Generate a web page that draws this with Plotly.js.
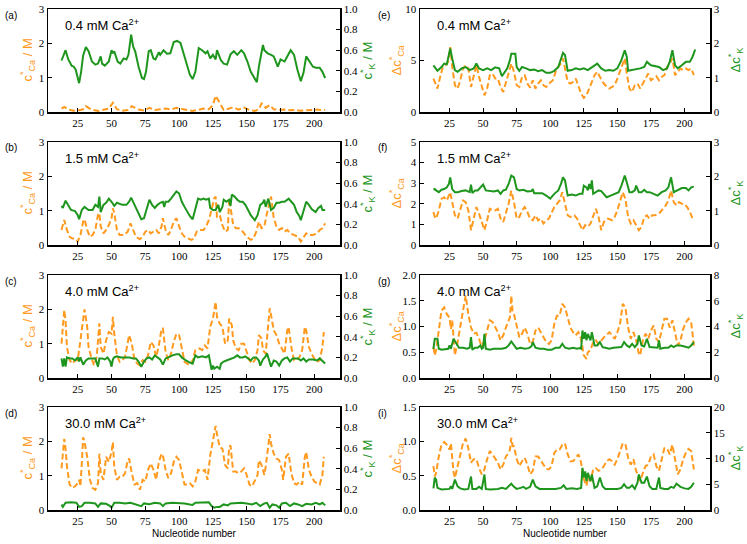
<!DOCTYPE html>
<html><head><meta charset="utf-8">
<script src="https://cdn.plot.ly/plotly-3.0.1.min.js"></script>
<style>html,body{margin:0;padding:0;background:#fff}#chart{width:747px;height:544px}</style>
</head><body><div id="chart"></div>
<script>
// ---- data: [nucleotide, value] pairs ----
const aCa=[[13,0.1],[15,0.15],[18,0.07],[22,0.04],[26,0.05],[29,0.08],[31,0.17],[35,0.07],[40,0.03],[44,0.06],[48,0.1],[51,0.27],[54,0.08],[58,0.04],[62,0.06],[65,0.17],[70,0.07],[74,0.04],[78,0.12],[82,0.06],[86,0.08],[90,0.1],[94,0.07],[98,0.12],[102,0.09],[106,0.05],[110,0.03],[114,0.06],[118,0.1],[122,0.08],[125,0.2],[127,0.47],[130,0.25],[133,0.06],[137,0.1],[140,0.14],[144,0.07],[148,0.13],[152,0.06],[156,0.03],[159,0.08],[161,0.25],[164,0.12],[167,0.2],[170,0.08],[174,0.06],[178,0.07],[182,0.05],[186,0.06],[190,0.04],[194,0.05],[198,0.06],[202,0.07],[206,0.05],[208,0.07]];
const aK=[[13,0.50],[14.4,0.555],[16,0.60],[18,0.51],[20.5,0.45],[22,0.44],[23.5,0.41],[26,0.28],[27.5,0.39],[29,0.55],[31,0.63],[33,0.59],[35.5,0.49],[38,0.46],[40,0.47],[42,0.54],[43,0.47],[45,0.45],[48,0.49],[50,0.60],[51,0.57],[52,0.59],[54.5,0.49],[56.5,0.47],[59,0.52],[61,0.51],[62.5,0.555],[64.5,0.75],[66,0.635],[67.5,0.59],[70,0.44],[72.5,0.33],[74,0.32],[75.5,0.39],[77.5,0.59],[79,0.60],[81,0.52],[82.5,0.51],[85,0.58],[86,0.555],[88.5,0.60],[91,0.565],[93.5,0.57],[96,0.68],[98.5,0.69],[101,0.67],[103,0.59],[105.5,0.47],[108,0.36],[110,0.32],[112,0.39],[114.5,0.62],[117,0.60],[119.5,0.57],[121,0.59],[123,0.52],[125,0.555],[127,0.51],[128,0.60],[131,0.50],[133,0.47],[135.5,0.46],[138,0.56],[140.5,0.59],[143,0.555],[146,0.60],[148,0.57],[150.5,0.49],[153,0.39],[155.5,0.33],[157.5,0.29],[159,0.44],[162,0.65],[163,0.60],[165.5,0.57],[168,0.555],[170,0.54],[173,0.44],[175,0.51],[178,0.49],[180,0.54],[182.5,0.60],[185,0.555],[187.5,0.41],[190,0.30],[192,0.38],[194,0.54],[196,0.50],[199,0.44],[201,0.43],[204,0.43],[206,0.39],[208,0.33]];
const bCa=[[13,0.44],[14,0.58],[15,0.73],[17,0.44],[19,0.24],[21,0.19],[23,0.19],[25,0.1],[27,0.29],[29,0.68],[30,0.75],[32,0.44],[34,0.24],[36,0.29],[38,0.44],[40,0.88],[41,0.93],[42,0.54],[44,0.34],[46,0.44],[48,0.58],[50,0.78],[51,1.07],[52,0.93],[54,0.44],[56,0.29],[59,0.29],[62,0.39],[64,0.63],[66,0.44],[68,0.24],[71,0.17],[73,0.24],[75,0.39],[77,0.44],[79,0.34],[81,0.39],[83,0.44],[85,0.34],[87,0.54],[88,0.78],[90,0.44],[92,0.29],[94,0.44],[96,0.68],[98,0.78],[100,0.54],[102,0.34],[104,0.24],[107,0.19],[109,0.15],[111,0.19],[113,0.39],[115,0.44],[118,0.44],[120,0.54],[122,0.73],[124,1.02],[126,1.36],[127,1.41],[128,0.83],[130,0.88],[132,0.58],[134,0.39],[136,0.44],[137,1.36],[138,1.12],[140,0.58],[142,0.49],[144,0.49],[146,0.44],[148,0.34],[150,0.24],[153,0.15],[155,0.19],[157,0.39],[159,0.68],[161,0.49],[163,0.54],[165,0.93],[167,1.31],[168,1.41],[170,0.78],[172,0.54],[174,0.44],[176,0.49],[178,0.39],[180,0.44],[182,0.34],[185,0.29],[188,0.24],[190,0.1],[192,0.24],[194,0.34],[196,0.29],[199,0.29],[202,0.34],[204,0.44],[206,0.49],[208,0.63]];
const bK=[[13,0.38],[14,0.36],[16,0.43],[18,0.39],[20,0.34],[23,0.33],[25,0.29],[26,0.25],[28,0.34],[30,0.37],[33,0.34],[36,0.34],[38,0.39],[40,0.37],[41,0.47],[42,0.32],[44,0.39],[46,0.41],[48,0.45],[50,0.42],[52,0.38],[54,0.41],[56,0.40],[58,0.39],[61,0.39],[63,0.42],[64.5,0.46],[66,0.42],[68,0.37],[70,0.31],[72,0.25],[74,0.26],[76,0.34],[78,0.44],[80,0.39],[82,0.36],[84,0.39],[86,0.41],[88,0.42],[89,0.37],[90,0.42],[92,0.42],[94,0.45],[96,0.49],[98,0.52],[100,0.50],[102,0.42],[104,0.37],[106,0.32],[108,0.28],[110,0.25],[112,0.34],[114,0.45],[116,0.44],[118,0.45],[120,0.44],[122,0.45],[123,0.36],[125,0.34],[127,0.34],[129,0.39],[130,0.32],[132,0.37],[133,0.44],[135,0.42],[137,0.44],[138,0.38],[139,0.49],[141,0.47],[143,0.44],[145,0.42],[147,0.42],[149,0.39],[151,0.34],[153,0.29],[156,0.24],[158,0.29],[160,0.39],[162,0.41],[163,0.44],[164,0.37],[166,0.45],[168,0.34],[170,0.36],[172,0.41],[174,0.41],[176,0.42],[178,0.42],[181,0.45],[183,0.42],[185,0.39],[187,0.32],[189,0.28],[190,0.24],[192,0.34],[194,0.42],[196,0.39],[198,0.35],[201,0.32],[203,0.36],[205,0.38],[206,0.34],[208,0.34]];
const cCa=[[13,1.0],[14,1.49],[15,1.98],[16,1.68],[17,0.9],[19,0.52],[21,0.42],[23,0.52],[25,0.52],[27,1.1],[29,1.73],[30,2.0],[32,1.49],[33,0.9],[35,0.61],[37,0.37],[39,0.61],[40,1.0],[41,1.59],[42,0.9],[44,0.71],[46,1.1],[48,1.34],[50,1.29],[51,1.78],[52,1.29],[54,0.66],[56,0.47],[58,0.52],[60,0.61],[62,1.1],[63,1.25],[65,1.0],[67,0.52],[69,0.42],[71,0.37],[73,0.52],[75,0.47],[77,0.66],[79,1.05],[81,0.95],[83,0.61],[85,0.95],[87,1.44],[88,1.44],[90,0.76],[92,0.52],[94,0.71],[96,1.05],[98,1.29],[100,1.25],[102,0.81],[104,0.47],[106,0.42],[108,0.37],[110,0.52],[112,0.81],[115,0.86],[117,0.81],[119,0.95],[121,0.86],[123,1.49],[125,1.73],[127,2.22],[128,1.78],[130,1.59],[132,1.49],[134,1.0],[136,1.1],[137,1.73],[139,1.54],[140,1.1],[142,0.86],[144,0.81],[146,1.0],[148,1.0],[150,0.76],[152,0.52],[154,0.42],[156,0.52],[158,0.81],[159,1.25],[161,1.15],[162,0.81],[164,0.71],[166,1.68],[167,2.03],[168,1.83],[170,1.39],[172,1.25],[174,1.0],[176,0.86],[178,0.71],[180,1.39],[181,1.49],[183,0.9],[185,0.52],[187,0.52],[189,0.61],[191,0.81],[193,1.49],[194,1.39],[196,0.9],[198,0.71],[200,0.56],[202,0.47],[204,0.52],[206,0.9],[207,1.34]];
const cK=[[13,0.19],[14,0.11],[15,0.19],[16,0.11],[17,0.2],[19,0.19],[21,0.19],[23,0.17],[25,0.2],[26,0.16],[27,0.2],[29,0.13],[31,0.17],[33,0.19],[36,0.19],[38,0.19],[40,0.11],[41,0.19],[43,0.19],[45,0.18],[47,0.2],[49,0.16],[50,0.11],[51,0.18],[52,0.2],[54,0.21],[57,0.2],[60,0.2],[63,0.2],[66,0.19],[68,0.19],[70,0.16],[72,0.11],[74,0.16],[76,0.19],[78,0.2],[80,0.18],[82,0.22],[84,0.2],[86,0.18],[88,0.13],[90,0.19],[92,0.2],[95,0.22],[98,0.23],[100,0.23],[102,0.2],[105,0.17],[108,0.15],[110,0.14],[112,0.22],[114,0.2],[117,0.21],[120,0.2],[122,0.22],[123,0.14],[124,0.08],[125,0.12],[126,0.09],[128,0.11],[130,0.09],[131,0.14],[133,0.16],[135,0.17],[137,0.18],[139,0.19],[141,0.2],[143,0.22],[145,0.2],[147,0.2],[149,0.21],[151,0.19],[153,0.17],[155,0.2],[157,0.2],[159,0.17],[160,0.12],[162,0.18],[164,0.21],[165,0.24],[166,0.19],[168,0.11],[170,0.17],[172,0.16],[174,0.12],[176,0.17],[178,0.19],[180,0.2],[182,0.16],[184,0.19],[186,0.19],[188,0.19],[190,0.17],[192,0.19],[194,0.16],[196,0.18],[199,0.18],[202,0.17],[204,0.19],[206,0.16],[208,0.14]];
const dCa=[[13,1.21],[14,1.69],[15,2.07],[16,1.79],[17,1.26],[19,0.74],[21,0.64],[23,0.69],[25,0.78],[26,0.88],[27,0.69],[28,1.36],[29,2.12],[30,1.98],[32,1.55],[34,0.88],[36,0.64],[38,0.59],[40,0.78],[41,1.64],[42,1.07],[44,0.88],[46,1.55],[48,1.4],[50,1.69],[51,1.98],[52,1.26],[54,0.88],[56,0.97],[58,0.97],[60,1.07],[62,1.45],[63,1.5],[65,1.07],[67,0.74],[69,0.78],[71,0.59],[73,0.88],[75,0.83],[77,1.17],[79,1.36],[81,1.17],[83,0.88],[85,1.4],[87,1.64],[88,1.59],[90,1.17],[92,0.93],[94,1.07],[96,1.4],[98,1.55],[100,1.45],[102,1.07],[104,0.74],[106,0.74],[108,0.78],[110,0.69],[112,0.83],[114,1.17],[117,1.12],[119,1.17],[121,0.88],[123,1.59],[125,2.02],[126,2.17],[127,2.45],[128,2.21],[130,1.83],[132,1.79],[134,1.31],[136,1.21],[137,1.83],[138,1.88],[140,1.12],[142,1.12],[144,1.07],[146,1.12],[148,1.21],[150,1.02],[152,0.74],[154,0.69],[156,0.88],[158,1.02],[159,1.45],[161,1.31],[163,1.02],[164,1.26],[166,1.88],[167,2.21],[168,1.93],[170,1.64],[172,1.5],[174,1.45],[176,1.17],[177,0.88],[179,1.55],[181,1.64],[183,1.07],[185,0.78],[187,0.74],[189,0.83],[191,0.74],[193,1.55],[194,1.69],[196,1.17],[198,0.97],[200,0.83],[202,0.78],[204,0.74],[206,1.02],[207,1.55]];
const dK=[[13,0.054],[14,0.03],[16,0.07],[20,0.076],[24,0.07],[26,0.03],[28,0.038],[30,0.07],[34,0.07],[38,0.064],[40,0.03],[42,0.064],[46,0.06],[49,0.038],[50,0.022],[52,0.07],[56,0.07],[60,0.064],[64,0.07],[68,0.054],[72,0.038],[74,0.064],[78,0.057],[82,0.07],[86,0.064],[88,0.038],[90,0.064],[95,0.07],[100,0.07],[104,0.064],[108,0.054],[110,0.05],[112,0.07],[117,0.07],[122,0.076],[124,0.038],[126,0.022],[128,0.03],[130,0.03],[133,0.054],[136,0.045],[138,0.064],[142,0.07],[146,0.07],[150,0.064],[154,0.054],[157,0.07],[160,0.038],[163,0.064],[165,0.07],[167,0.022],[169,0.054],[172,0.045],[174,0.022],[176,0.064],[179,0.07],[182,0.038],[185,0.064],[188,0.054],[191,0.038],[194,0.06],[198,0.054],[201,0.07],[204,0.054],[206,0.07],[208,0.045]];
const eCa=[[13,3.25],[15,2.6],[16,2.27],[18,3.4],[20,4.38],[22,4.55],[24,4.87],[25.5,6.3],[27,4.38],[29,2.6],[31,2.27],[33,3.08],[35,4.22],[37,4.55],[39,4.22],[41,2.43],[43,3.4],[45,4.55],[47,3.4],[49,2.6],[51,1.62],[53,2.27],[55,3.57],[57,3.73],[59,3.25],[61,3.25],[63,2.43],[65,1.95],[67,2.92],[69,3.9],[71,4.7],[73,3.9],[75,2.6],[77,2.43],[79,3.4],[81,3.57],[83,2.76],[85,2.37],[87,3.08],[89,2.27],[91,2.76],[93,3.08],[95,2.6],[97,2.43],[99,2.76],[102,3.08],[104,3.9],[106,4.38],[108,4.7],[109.5,5.2],[111,4.06],[113,2.92],[115,2.76],[117,2.92],[119,3.25],[121,2.43],[123,1.79],[125,1.36],[127,1.62],[129,2.27],[131,2.92],[133,3.57],[135,3.9],[137,3.4],[139,2.92],[141,2.6],[144,2.27],[146,2.43],[148,2.6],[150,3.25],[152,3.9],[154,4.7],[155.5,5.2],[157,3.73],[159,2.27],[161,1.95],[163,2.6],[165,2.76],[167,2.27],[169,2.76],[171,3.25],[173,3.73],[175,3.08],[177,3.25],[179,3.47],[181,3.08],[183,3.4],[185,3.57],[187,4.38],[189,4.7],[191,5.2],[193,3.57],[195,3.9],[197,4.22],[199,4.06],[201,4.22],[203,4.06],[205,4.22],[207,3.57]];
const eK=[[13,1.36],[15,1.27],[16,1.2],[19,1.31],[21,1.41],[23,1.39],[24,1.56],[25.5,1.85],[27,1.56],[29,1.22],[31,1.17],[34,1.27],[37,1.31],[40,1.22],[43,1.27],[45,1.41],[47,1.27],[50,1.22],[53,1.27],[56,1.22],[59,1.3],[62,1.27],[64,1.04],[66,1.17],[68,1.27],[70,1.51],[71,1.7],[74,1.7],[75,1.31],[77,1.2],[79,1.31],[82,1.27],[85,1.22],[88,1.24],[91,1.19],[94,1.22],[97,1.14],[100,1.14],[103,1.2],[106,1.31],[108,1.56],[109.5,1.72],[111,1.66],[113,1.2],[116,1.22],[119,1.27],[122,1.24],[125,1.27],[128,1.22],[131,1.31],[135,1.41],[138,1.27],[141,1.2],[144,1.22],[147,1.2],[150,1.27],[153,1.51],[155.5,1.8],[157,1.61],[158,1.2],[161,1.22],[164,1.24],[167,1.27],[170,1.31],[172,1.46],[175,1.36],[178,1.33],[181,1.31],[184,1.22],[187,1.27],[189,1.46],[191,1.8],[193,1.36],[195,1.27],[198,1.36],[201,1.46],[204,1.46],[206,1.61],[208,1.82]];
const fCa=[[13,1.6],[14,1.36],[15,1.28],[17,1.68],[19,2.24],[21,2.32],[23,2.16],[24.5,2.4],[25.5,2.56],[27,2.08],[29,1.44],[31,1.28],[33,1.68],[35,2.16],[37,2.08],[39,1.68],[41,0.72],[43,1.28],[45,1.84],[47,1.52],[49,1.12],[51,0.72],[53,1.2],[55,1.76],[57,1.68],[59,1.68],[61,1.76],[63,1.28],[65,1.12],[67,1.52],[69,2.0],[71,2.64],[73,2.08],[75,1.28],[77,1.36],[79,1.68],[81,1.84],[83,1.6],[85,1.28],[87,1.2],[89,1.44],[91,1.2],[93,1.28],[95,1.04],[97,1.2],[99,1.28],[101,1.6],[103,1.84],[105,2.0],[107,2.16],[109,2.56],[111,1.92],[113,1.44],[115,1.36],[118,1.44],[120,1.28],[122,0.96],[124,0.72],[126,0.96],[128,0.88],[130,1.04],[132,1.36],[134,1.76],[136,1.36],[138,0.72],[140,1.12],[143,1.28],[146,1.2],[148,1.36],[150,1.68],[152,2.16],[154,2.56],[156,2.24],[158,1.36],[160,1.04],[162,1.2],[164,0.96],[166,0.72],[168,0.88],[170,1.36],[172,1.44],[174,1.28],[176,1.44],[178,1.44],[181,1.52],[184,1.76],[186,1.92],[188,2.16],[190,2.64],[192,2.08],[194,1.92],[196,2.08],[198,2.0],[200,2.0],[202,1.84],[204,1.6],[206,1.28]];
const fK=[[13,1.61],[14,1.63],[15,1.59],[17,1.54],[19,1.61],[21,1.63],[23,1.68],[24.5,1.78],[25.5,1.97],[27,1.63],[29,1.54],[31,1.54],[34,1.57],[37,1.59],[40,1.54],[41,1.76],[42,1.51],[44,1.59],[46,1.59],[48,1.68],[50,1.76],[52,1.59],[55,1.57],[58,1.56],[61,1.59],[63,1.49],[65,1.59],[67,1.61],[69,1.78],[71,2.02],[73,1.97],[75,1.63],[77,1.59],[80,1.61],[83,1.56],[86,1.57],[87,1.63],[88,1.51],[91,1.51],[94,1.51],[97,1.44],[100,1.35],[103,1.49],[106,1.59],[108,1.78],[109.5,1.97],[111,1.88],[113,1.44],[116,1.47],[119,1.44],[122,1.49],[124,1.49],[125,1.73],[127,1.68],[128,1.59],[129,1.78],[130,1.63],[131,1.88],[132,1.49],[134,1.54],[136,1.59],[138,1.57],[140,1.49],[142,1.39],[145,1.44],[148,1.49],[151,1.54],[153,1.73],[155.5,2.02],[157,1.83],[159,1.54],[161,1.54],[163,1.59],[164,1.73],[166,1.54],[168,1.54],[170,1.61],[172,1.54],[174,1.54],[177,1.49],[180,1.44],[183,1.54],[186,1.59],[188,1.68],[190,1.97],[192,1.54],[195,1.59],[198,1.66],[201,1.66],[203,1.59],[205,1.68],[207,1.70]];
const gCa=[[13,0.6],[14,0.44],[15,0.54],[17,0.98],[19,1.31],[21,1.37],[23,1.24],[25,1.17],[26,0.95],[27,1.12],[28,0.7],[29,0.44],[31,0.7],[33,1.01],[35,1.34],[37,1.6],[39,1.24],[41,0.98],[43,0.86],[45,0.88],[47,0.76],[49,0.6],[51,0.73],[53,0.92],[55,1.12],[57,1.09],[59,0.98],[61,0.89],[63,0.73],[65,0.83],[67,0.98],[69,1.12],[70,1.18],[71,1.6],[72,1.28],[73,1.24],[75,0.98],[77,0.79],[79,0.86],[81,0.98],[83,0.86],[85,0.66],[87,0.7],[89,0.92],[91,0.98],[93,0.89],[95,0.79],[97,0.7],[99,0.66],[101,0.73],[103,1.05],[105,1.21],[107,1.21],[109,1.44],[111,1.37],[113,1.18],[115,0.98],[117,0.89],[119,0.83],[121,0.89],[123,0.76],[125,0.44],[127,0.37],[128,0.5],[130,0.54],[132,0.7],[134,0.73],[136,0.66],[138,0.73],[140,0.79],[142,0.83],[144,0.89],[146,0.83],[148,0.76],[150,0.89],[152,1.05],[154,1.44],[156,1.37],[158,0.98],[160,0.76],[162,0.89],[164,0.73],[166,0.47],[167,0.44],[169,0.73],[171,0.86],[173,0.76],[175,0.92],[177,1.02],[179,0.76],[181,0.7],[183,0.92],[185,1.15],[187,1.15],[189,0.98],[191,1.12],[193,0.89],[195,0.63],[197,0.73],[199,0.95],[201,1.08],[203,1.15],[205,1.08],[207,0.63]];
const gK=[[13,2.27],[14,3.05],[16,3.05],[17,2.27],[19,2.19],[22,2.27],[24,2.27],[25,2.53],[26,2.27],[28,3.05],[30,2.66],[32,2.35],[35,2.35],[38,2.27],[40,2.35],[41,3.17],[42,2.19],[44,2.35],[46,2.35],[48,2.53],[49,2.27],[50,2.35],[51,3.43],[52,2.27],[55,2.19],[58,2.27],[61,2.27],[64,2.27],[67,2.35],[69,2.53],[71,2.84],[73,2.6],[75,2.27],[78,2.35],[81,2.27],[84,2.32],[86,2.45],[87,2.79],[89,2.35],[92,2.27],[95,2.27],[98,2.19],[101,2.19],[104,2.35],[107,2.35],[109,2.66],[111,2.35],[114,2.27],[117,2.35],[120,2.27],[122,2.32],[123,2.27],[124,3.69],[125,3.05],[126,3.56],[127,2.92],[128,3.43],[130,2.92],[131,3.56],[133,2.53],[135,2.53],[137,2.79],[139,2.4],[141,2.35],[144,2.27],[147,2.35],[150,2.35],[153,2.4],[155,2.79],[157,2.53],[159,2.4],[161,2.66],[163,2.4],[165,2.66],[166,3.3],[168,2.53],[170,2.45],[172,3.05],[174,2.4],[177,2.35],[180,2.35],[181,2.92],[182,2.27],[185,2.35],[188,2.35],[190,2.53],[192,2.4],[194,2.53],[197,2.53],[200,2.45],[203,2.35],[205,2.53],[207,2.79]];
const iCa=[[13,0.64],[14,0.49],[15,0.54],[17,0.78],[19,0.95],[21,0.99],[23,0.95],[25,0.88],[26,0.97],[27,0.74],[28,0.55],[29,0.47],[31,0.64],[33,0.83],[35,0.97],[37,1.04],[39,0.9],[41,0.69],[43,0.74],[45,0.74],[47,0.61],[49,0.52],[51,0.59],[53,0.74],[55,0.86],[57,0.81],[59,0.74],[61,0.69],[63,0.59],[65,0.66],[67,0.78],[69,0.83],[70,0.88],[71,1.05],[72,0.93],[73,0.93],[75,0.74],[77,0.64],[79,0.71],[81,0.76],[83,0.66],[85,0.52],[87,0.57],[89,0.78],[91,0.78],[93,0.71],[95,0.66],[97,0.6],[99,0.59],[101,0.64],[103,0.83],[105,0.88],[107,0.88],[109,0.95],[111,0.97],[113,0.81],[115,0.71],[117,0.71],[119,0.76],[121,0.81],[123,0.69],[125,0.45],[127,0.35],[128,0.47],[130,0.42],[132,0.59],[134,0.61],[136,0.57],[138,0.59],[140,0.64],[142,0.71],[144,0.74],[146,0.71],[148,0.66],[150,0.74],[152,0.86],[154,0.97],[156,0.96],[158,0.76],[160,0.66],[162,0.74],[164,0.57],[166,0.45],[167,0.42],[169,0.54],[171,0.64],[173,0.66],[175,0.78],[177,0.81],[179,0.64],[181,0.57],[183,0.74],[185,0.9],[187,0.9],[189,0.81],[191,0.95],[193,0.71],[195,0.52],[197,0.59],[199,0.74],[201,0.83],[203,0.89],[205,0.86],[207,0.59]];
const iK=[[13,4.2],[14,6.3],[15,5.9],[16,4.3],[19,4.0],[22,4.0],[25,4.1],[26,4.6],[27,4.1],[29,5.9],[31,4.6],[33,4.2],[36,4.0],[39,4.1],[41,6.5],[42,4.1],[45,4.1],[47,4.5],[49,4.1],[51,6.9],[52,4.1],[55,4.0],[58,4.0],[61,4.1],[64,4.3],[67,4.1],[69,4.6],[71,5.1],[73,4.5],[75,4.1],[78,4.3],[80,4.5],[82,4.1],[85,4.5],[87,5.9],[89,4.6],[92,4.1],[96,4.1],[100,4.0],[104,4.1],[108,4.3],[110,4.8],[112,4.1],[116,4.2],[120,4.1],[123,4.3],[124,8.2],[125,6.3],[126,7.5],[127,5.6],[128,7.2],[130,5.6],[131,6.9],[133,4.3],[135,4.6],[137,6.3],[139,4.6],[141,4.1],[144,4.1],[147,4.1],[150,4.1],[153,4.3],[155,5.0],[157,4.3],[159,4.3],[161,4.8],[163,4.1],[165,5.3],[166,6.9],[168,5.3],[170,5.3],[172,6.5],[174,4.6],[176,4.1],[179,4.1],[181,6.3],[182,4.3],[185,4.1],[188,4.1],[190,4.5],[192,4.3],[194,5.1],[197,4.5],[200,4.2],[203,4.1],[205,4.5],[207,5.3]];

// ---- panel settings ----
const concLabels=['0.4 mM Ca<sup>2+</sup>','1.5 mM Ca<sup>2+</sup>','4.0 mM Ca<sup>2+</sup>','30.0 mM Ca<sup>2+</sup>'];
const panelLetters=['(a)','(b)','(c)','(d)','(e)','(f)','(g)','(i)'];
const caSeries=[aCa,bCa,cCa,dCa,eCa,fCa,gCa,iCa];
const kSeries=[aK,bK,cK,dK,eK,fK,gK,iK];
const leftRanges=[[0,3],[0,3],[0,3],[0,3],[0,10],[0,5],[0,2],[0,1.5]];
const leftDticks=[1,1,1,1,5,1,0.5,0.5];
const leftFormats=['d','d','d','d','d','d','.1f','.1f'];
const rightRanges=[[0,1],[0,1],[0,1],[0,1],[0,3],[0,3],[0,8],[0,20]];
const rightDticks=[0.2,0.2,0.2,0.2,1,1,2,5];
const rightFormats=['.1f','.1f','.1f','.1f','d','d','d','d'];

const W=747,H=544;
const colPx=[[48,340],[420,710]];
const rowPx=[[9,112],[142,245],[275,378],[407,510]];
const ORANGE='#ff9a1e', GREEN='#1e961e';
const tickFont={family:'Liberation Serif, DejaVu Serif, serif',size:11,color:'#000'};

const traces=[]; const layout={width:W,height:H,margin:{l:0,r:0,t:0,b:0},paper_bgcolor:'#fff',plot_bgcolor:'#fff',showlegend:false,annotations:[]};
for(let p=0;p<8;p++){
  const n=p+1, col=p<4?0:1, row=p%4;
  const xName=n===1?'xaxis':'xaxis'+n, xRef=n===1?'x':'x'+n;
  const ylN=2*n-1, yrN=2*n;
  const ylName=ylN===1?'yaxis':'yaxis'+ylN, ylRef=ylN===1?'y':'y'+ylN;
  const yrName='yaxis'+yrN, yrRef='y'+yrN;
  const xd=[colPx[col][0]/W,colPx[col][1]/W];
  const yd=[1-rowPx[row][1]/H,1-rowPx[row][0]/H];
  const common={ticks:'inside',ticklen:4,tickwidth:1,tickcolor:'#000',showline:true,linecolor:'#000',linewidth:1.5,showgrid:false,zeroline:false,tickfont:tickFont,fixedrange:true};
  layout[xName]=Object.assign({},common,{domain:xd,range:[3,219],anchor:ylRef,tick0:0,dtick:25,mirror:true});
  layout[ylName]=Object.assign({},common,{domain:yd,range:leftRanges[p],anchor:xRef,side:'left',tick0:0,dtick:leftDticks[p],tickformat:leftFormats[p]});
  layout[yrName]=Object.assign({},common,{domain:yd,range:rightRanges[p],anchor:xRef,overlaying:ylRef,side:'right',tick0:0,dtick:rightDticks[p],tickformat:rightFormats[p]});
  traces.push({x:caSeries[p].map(d=>d[0]),y:caSeries[p].map(d=>d[1]),xaxis:xRef,yaxis:ylRef,mode:'lines',line:{color:ORANGE,width:2,dash:'6px,3px'},hoverinfo:'skip'});
  traces.push({x:kSeries[p].map(d=>d[0]),y:kSeries[p].map(d=>d[1]),xaxis:xRef,yaxis:yrRef,mode:'lines',line:{color:GREEN,width:2},hoverinfo:'skip'});
  const top=rowPx[row][0], mid=(rowPx[row][0]+rowPx[row][1])/2;
  // panel letter
  layout.annotations.push({xref:'paper',yref:'paper',x:(col===0?3:376)/W,y:1-(top+6)/H,xanchor:'left',yanchor:'middle',showarrow:false,text:panelLetters[p],font:{family:'Liberation Sans, Arial, sans-serif',size:10,color:'#000'}});
  // concentration
  layout.annotations.push({xref:'paper',yref:'paper',x:(colPx[col][0]+15)/W,y:1-(top+16)/H,xanchor:'left',yanchor:'middle',showarrow:false,text:concLabels[row],font:{family:'Liberation Sans, Arial, sans-serif',size:13,color:'#000'}});
  // y titles
  const lt=col===0? 'c<sup>*</sup><sub>Ca</sub> / M' : 'Δc<sup>*</sup><sub>Ca</sub>';
  const rt=col===0? 'c<sup>*</sup><sub>K</sub> / M' : 'Δc<sup>*</sup><sub>K</sub>';
  layout.annotations.push({xref:'paper',yref:'paper',x:(col===0?27:396)/W,y:1-mid/H,xanchor:'center',yanchor:'middle',textangle:-90,showarrow:false,text:lt,font:{family:'Liberation Sans, Arial, sans-serif',size:13,color:ORANGE}});
  layout.annotations.push({xref:'paper',yref:'paper',x:(col===0?367:735)/W,y:1-mid/H,xanchor:'center',yanchor:'middle',textangle:-90,showarrow:false,text:rt,font:{family:'Liberation Sans, Arial, sans-serif',size:13,color:GREEN}});
  if(row===3){
    layout.annotations.push({xref:'paper',yref:'paper',x:(colPx[col][0]+colPx[col][1])/2/W,y:1-533/H,xanchor:'center',yanchor:'middle',showarrow:false,text:'Nucleotide number',font:{family:'Liberation Sans, Arial, sans-serif',size:10,color:'#000'}});
  }
}
Plotly.newPlot('chart',traces,layout,{staticPlot:true,displayModeBar:false});
</script></body></html>
